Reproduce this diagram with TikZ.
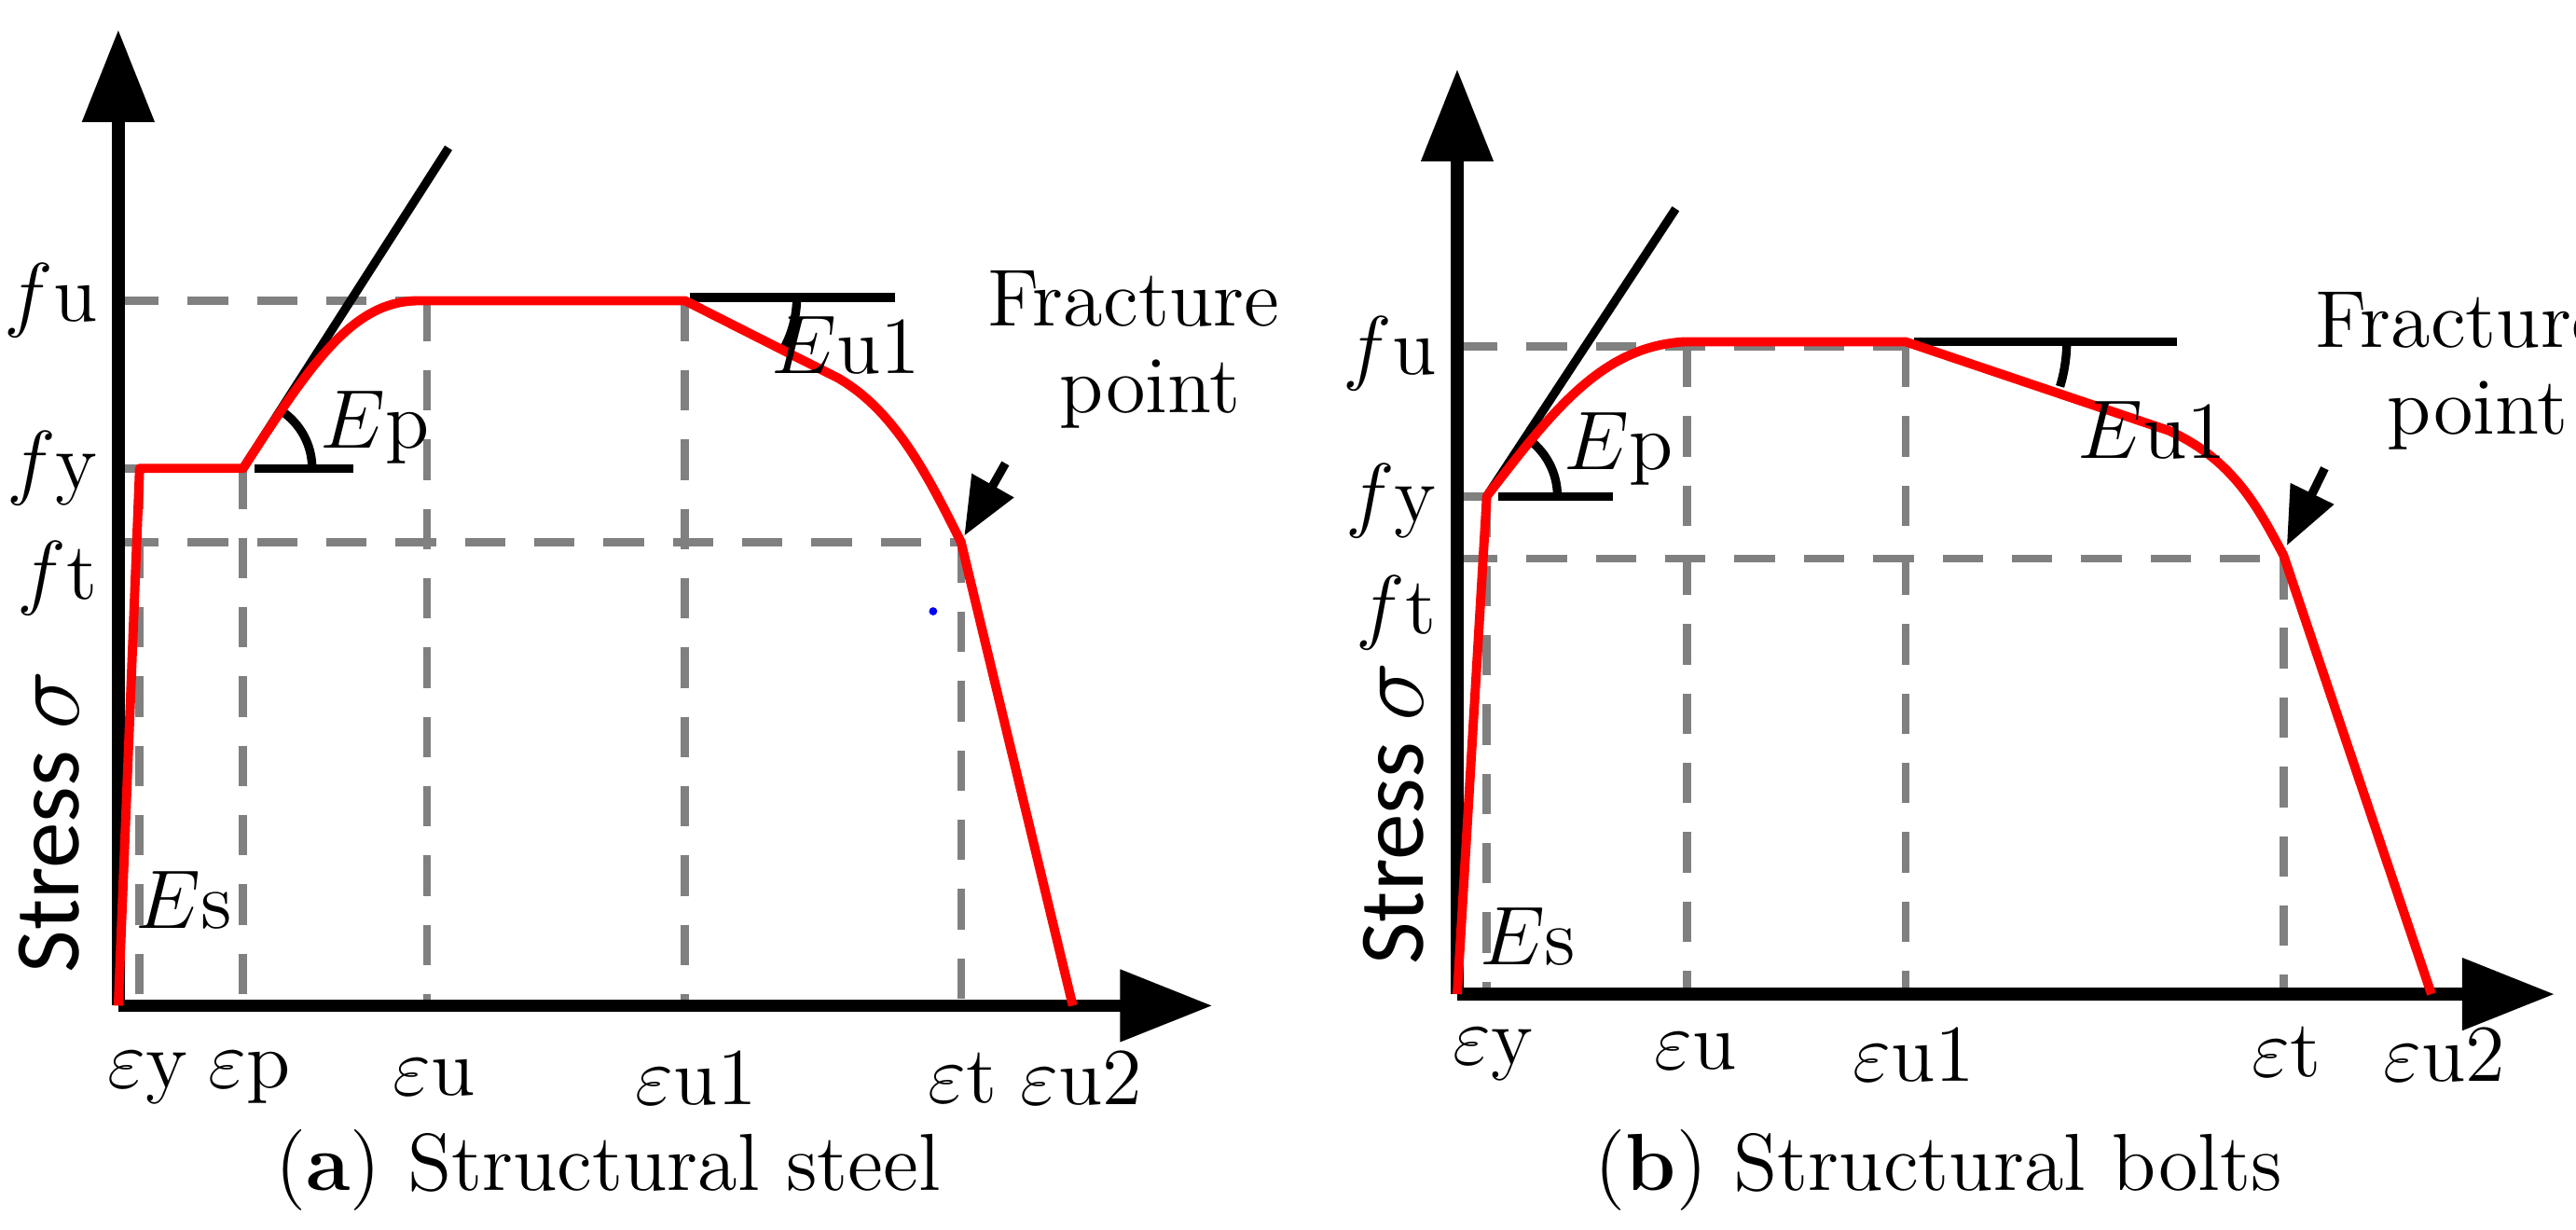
\documentclass[tikz,border=0pt]{standalone}
\usepackage{fontspec}
\usetikzlibrary{arrows.meta}
\newfontfamily\carl{Carlito}
\begin{document}
\begin{tikzpicture}[x=0.01cm,y=-0.01cm,
 ax/.style={line width=2.2pt,-{Triangle[length=16pt,width=12pt]}},
 rc/.style={red,line width=1.6pt,line join=round},
 dsh/.style={gray,line width=1.4pt,dash pattern=on 7pt off 5pt},
 bl/.style={black,line width=1.5pt},
 lb/.style={font=\fontsize{14}{16}\selectfont,inner sep=0pt}]
\useasboundingbox (0,0) rectangle (1568,748);
% ---------- left ----------
\draw[dsh] (72,183)--(417,183) (72,285)--(85,285) (72,330)--(585,330);
\draw[dsh] (85,285)--(85,612) (148,285)--(148,612) (260,183)--(260,612) (417,183)--(417,612) (585,330)--(585,612);
\coordinate (o1) at (72,612);
\draw[ax] (o1)--(72,18);
\draw[ax] (o1)--(738,612);
\draw[bl] (148,285)--(273,90);
\draw[bl] (155,285)--(215,285);
\draw[bl] (420,181)--(545,181);
\draw[bl] (190,285) arc[start angle=0,end angle=-57,radius=42];
\draw[bl] (485,181) arc[start angle=0,end angle=30,radius=65];
\draw[rc] (72,612)--(85,285)--(148,285) .. controls (190,220) and (215,183) .. (255,183) -- (417,183) -- (510,230) .. controls (545,250) and (565,290) .. (585,330) -- (653,612);
\fill[blue] (568,372) circle (2.5);
\node[lb,anchor=east] (fu1) at (60,183) {$f$u};
\node[lb,anchor=east] (fy1) at (60,285) {$f$y};
\node[lb,anchor=east] (ft1) at (60,352) {$f$t};
\node[lb,rotate=90,font=\carl\fontsize{16}{18}\selectfont] (s1) at (30,500) {Stress $\sigma$};
\node[lb] (es1) at (112,548) {$E$s};
\node[lb] (ep1) at (228,260) {$E$p};
\node[lb] (eu11) at (515,210) {$E$u1};
\node[lb] (ey1) at (90,656) {$\varepsilon$y};
\node[lb] (epp1) at (152,656) {$\varepsilon$p};
\node[lb] (eu1) at (264,656) {$\varepsilon$u};
\node[lb] (eua1) at (424,656) {$\varepsilon$u1};
\node[lb] (et1) at (586,656) {$\varepsilon$t};
\node[lb] (eub1) at (658,656) {$\varepsilon$u2};
\node[lb] (fr1) at (690,182) {Fracture};
\node[lb] (pt1) at (700,240) {point};
\draw[bl,-{Triangle[length=10pt,width=8pt]}] (612,282)--(587,326);
\node[lb] (c1) at (370,712) {(\textbf{a}) Structural steel};
% ---------- right ----------
\draw[dsh] (887,211)--(1160,211) (887,302)--(905,302) (887,340)--(1390,340);
\draw[dsh] (905,302)--(905,605) (1027,211)--(1027,605) (1160,211)--(1160,605) (1390,340)--(1390,605);
\coordinate (o2) at (887,605);
\draw[ax] (o2)--(887,42);
\draw[ax] (o2)--(1555,605);
\draw[bl] (905,302)--(1020,127);
\draw[bl] (912,302)--(982,302);
\draw[bl] (1165,208)--(1325,208);
\draw[bl] (948,302) arc[start angle=0,end angle=-57,radius=43];
\draw[bl] (1258,208) arc[start angle=0,end angle=17,radius=93];
\draw[rc] (887,605)--(905,302) .. controls (945,250) and (975,211) .. (1025,208) -- (1160,208) -- (1320,262) .. controls (1360,280) and (1375,310) .. (1390,338) -- (1480,605);
\node[lb,anchor=east] (fu2) at (875,215) {$f$u};
\node[lb,anchor=east] (fy2) at (875,305) {$f$y};
\node[lb,anchor=east] (ft2) at (875,373) {$f$t};
\node[lb,rotate=90,font=\carl\fontsize{16}{18}\selectfont] (s2) at (848,495) {Stress $\sigma$};
\node[lb] (es2) at (930,570) {$E$s};
\node[lb] (ep2) at (985,273) {$E$p};
\node[lb] (eu12) at (1310,262) {$E$u1};
\node[lb] (ey2) at (909,642) {$\varepsilon$y};
\node[lb] (eu2) at (1032,640) {$\varepsilon$u};
\node[lb] (eua2) at (1165,642) {$\varepsilon$u1};
\node[lb] (et2) at (1392,640) {$\varepsilon$t};
\node[lb] (eub2) at (1488,642) {$\varepsilon$u2};
\node[lb] (fr2) at (1498,195) {Fracture};
\node[lb] (pt2) at (1508,253) {point};
\draw[bl,-{Triangle[length=10pt,width=8pt]}] (1415,285)--(1392,332);
\node[lb] (c2) at (1180,712) {(\textbf{b}) Structural bolts};
\end{tikzpicture}
\end{document}
